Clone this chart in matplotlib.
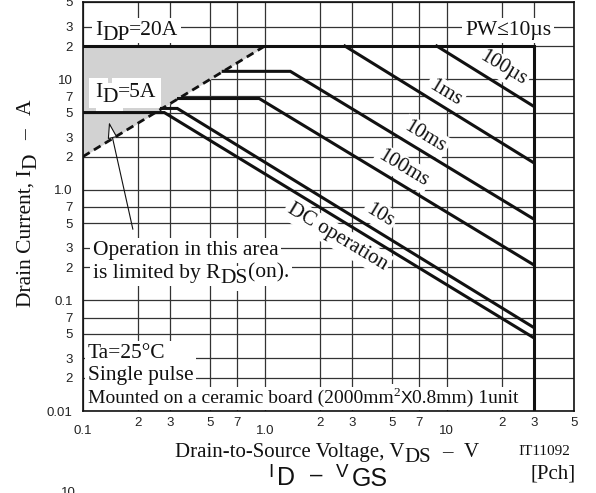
import matplotlib

matplotlib.use("Agg")

import matplotlib.pyplot as plt

SERIF = "Liberation Serif"
SANS = "Liberation Sans"

# SOA outline: I_DP plateau, then the V_DSS wall (V, A)
outline_v = [0.1, 30.0, 30.0]
outline_i = [20.0, 20.0, 0.01]

# R_DS(on) limit
rds_v = [0.1, 1.0]
rds_i = [2.0, 20.0]

# single-pulse curves
pw_100us_v = [8.8, 30.0]
pw_100us_i = [20.0, 5.7]
pw_1ms_v = [2.75, 30.0]
pw_1ms_i = [20.0, 1.76]
pw_10ms_v = [0.59, 1.38, 30.0]
pw_10ms_i = [11.8, 11.8, 0.545]
pw_100ms_v = [0.335, 0.93, 30.0]
pw_100ms_i = [6.7, 6.7, 0.21]
pw_10s_v = [0.27, 0.33, 30.0]
pw_10s_i = [5.45, 5.45, 0.057]
dc_v = [0.1, 0.28, 30.0]
dc_i = [5.0, 5.0, 0.046]

curve_names = ["100µs", "1ms", "10ms", "100ms", "10s", "DC operation"]

x_major = [0.1, 1.0, 10.0]
x_major_labels = ["0.1", "1.0", "10"]
x_minor = [0.2, 0.3, 0.5, 0.7, 2, 3, 5, 7, 20, 30, 50]
x_minor_labels = ["2", "3", "5", "7", "2", "3", "5", "7", "2", "3", "5"]
y_major = [0.01, 0.1, 1.0, 10.0]
y_major_labels = ["0.01", "0.1", "1.0", "10"]
y_minor = [0.02, 0.03, 0.05, 0.07, 0.2, 0.3, 0.5, 0.7, 2, 3, 5, 7, 20, 30, 50]
y_minor_labels = ["2", "3", "5", "7"] * 3 + ["2", "3", "5"]

INK = "#111111"


def run_text(ax, x, y, coords, pieces, rotate=False, box=None, zorder=2, **kw):
    """Write pieces one after another; each piece is (text, gap_px, drop_px, style).

    With a box, the white patches go in first and the glyphs on top, so a
    piece's patch never hides the end of the piece before it.
    """
    prev = None
    for text, gap, drop, style in pieces:
        opts = dict(kw)
        opts.update(style)
        if rotate:
            anchor = (x, y) if prev is None else (x, 1.0)
            xycoords = coords if prev is None else (coords, prev)
            offset = (drop, gap)
            opts.update(rotation=90, rotation_mode="anchor")
        else:
            anchor = (x, y) if prev is None else (1.0, y)
            xycoords = coords if prev is None else (prev, coords)
            offset = (gap, -drop)
        common = dict(xy=anchor, xycoords=xycoords, xytext=offset, textcoords="offset pixels",
                      ha="left", va="baseline", annotation_clip=False)
        if box is not None:
            ax.annotate(text, bbox=box, zorder=zorder, **common, **dict(opts, color=(1, 1, 1, 0)))
        prev = ax.annotate(text, zorder=zorder + 0.1, **common, **opts)
    return prev


fig = plt.figure(figsize=(5.96, 4.93), dpi=100)
ax = fig.add_axes([83 / 596, 82 / 493, 491 / 596, 409 / 493])
ax.set_xscale("log")
ax.set_yscale("log")
ax.set_xlim(0.1, 50)
ax.set_ylim(0.01, 50)

ax.set_xticks(x_major, x_major_labels)
ax.set_xticks(x_minor, x_minor_labels, minor=True)
ax.set_yticks(y_major, y_major_labels)
ax.set_yticks(y_minor, y_minor_labels, minor=True)
for lab in ax.get_xticklabels(which="both") + ax.get_yticklabels(which="both"):
    lab.set_fontfamily(SANS)
    lab.set_fontsize(9.5)
    lab.set_color("#222222")
ax.tick_params(axis="both", which="both", length=0)
ax.tick_params(axis="x", which="minor", pad=4.5)
ax.tick_params(axis="x", which="major", pad=10.0)
ax.tick_params(axis="y", which="both", pad=7.5)

ax.set_axisbelow(True)
ax.grid(which="both", color="#333333", linewidth=0.9)
for sp in ax.spines.values():
    sp.set_linewidth(1.2)
    sp.set_color(INK)

# region bounded by on-resistance
ax.fill_between(rds_v, rds_i, [outline_i[0]] * len(rds_v), color="#d2d2d2", lw=0, zorder=1)

thick = dict(color=INK, lw=2.2, solid_joinstyle="miter", zorder=4)
ax.plot(outline_v, outline_i, **thick)
ax.plot(rds_v, rds_i, color=INK, lw=2.0, linestyle=(0, (2.8, 1.8)), zorder=4)
for v, i in [(pw_100us_v, pw_100us_i), (pw_1ms_v, pw_1ms_i), (pw_10ms_v, pw_10ms_i),
             (pw_100ms_v, pw_100ms_i), (pw_10s_v, pw_10s_i), (dc_v, dc_i)]:
    ax.plot(v, i, **thick)

white = dict(fc="white", ec="none", pad=2.0)
label_pos = [(20.3, 12.6), (9.75, 7.5), (7.57, 3.0), (5.73, 1.57), (4.29, 0.59), (2.49, 0.374)]
for name, (lx, ly) in zip(curve_names, label_pos):
    ax.text(lx, ly, name, rotation=-31, rotation_mode="anchor", ha="center", va="center",
            fontfamily=SERIF, fontsize=15, color=INK, bbox=white, zorder=2)

serif = dict(fontfamily=SERIF, fontsize=15.5, color=INK)
run_text(ax, 0.116, 25.0, "data", [("I", 0, 0, {}), ("DP", 0, 5, {}), ("=20A", 0, 0, {})],
         box=white, **serif)
run_text(ax, 12.6, 25.0, "data", [("PW≤10µs", 0, 0, {})], box=white, **serif)
run_text(ax, 0.116, 6.87, "data", [("I", 0, 0, {}), ("D", 0, 5, {}), ("=5A", 0, 0, {})],
         box=dict(fc="white", ec="none", pad=4.0), **serif)
run_text(ax, 0.1135, 0.259, "data", [("Operation in this area", 0, 0, {})], box=white, **serif)
run_text(ax, 0.1135, 0.160, "data",
         [("is limited by R", 0, 0, {}), ("DS", 0, 5, {}), ("(on).", 0, 0, {})],
         box=white, **serif)
ax.annotate("", xy=(0.139, 4.1), xytext=(0.188, 0.44),
            arrowprops=dict(arrowstyle="-|>,head_length=1.0,head_width=0.3", fc="white",
                            ec=INK, lw=0.8, mutation_scale=10, shrinkA=0, shrinkB=0),
            zorder=5)
ax.text(0.1065, 0.0191, "Ta=25°C\nSingle pulse", ha="left", va="baseline", linespacing=1.2,
        bbox=white, zorder=2, **serif)
run_text(ax, 0.1065, 0.0118, "data",
         [("Mounted on a ceramic board (2000mm", 0, 0, {}),
          ("2", 0, -7, dict(fontsize=9.5)),
          ("X", 0, 0, dict(fontfamily=SANS, fontsize=12.5)),
          ("0.8mm) 1unit", 0, 0, {})], box=white, **dict(serif, fontsize=14))

# axis titles and captions
run_text(ax, 175, 493 - 457, "figure pixels",
         [("Drain-to-Source Voltage, V", 0, 0, {}), ("DS", 0, 5, {}),
          ("–", 11, 0, {}), ("V", 11, 0, {})], **dict(serif, fontsize=15))
run_text(ax, 31, 493 - 307, "figure pixels",
         [("Drain Current, I", 0, 0, {}), ("D", 0, 5, {}), ("–", 14, 0, {}), ("A", 14, 0, {})],
         rotate=True, **serif)
fig.text(518 / 596, 1 - 455 / 493, "IT11092", fontfamily=SERIF, fontsize=11, color=INK,
         ha="left", va="baseline")
fig.text(530 / 596, 1 - 478 / 493, "[Pch]", fontfamily=SERIF, fontsize=15, color=INK,
         ha="left", va="baseline")

big = dict(fontfamily=SANS, color=INK, ha="left", va="baseline")
fig.text(268 / 596, 1 - 477 / 493, "I", fontsize=13.5, **big)
fig.text(277 / 596, 1 - 485 / 493, "D", fontsize=18, **big)
fig.text(310 / 596, 1 - 481 / 493, "–", fontsize=16, **big)
fig.text(336 / 596, 1 - 477 / 493, "V", fontsize=13.5, **big)
fig.text(352 / 596, 1 - 486 / 493, "GS", fontsize=18, **big)
fig.text(68 / 596, 1 - 487 / 493, "10", fontfamily=SANS, fontsize=9.5, color="#222222",
         ha="center", va="top")

fig.savefig("out.png", dpi=100)
